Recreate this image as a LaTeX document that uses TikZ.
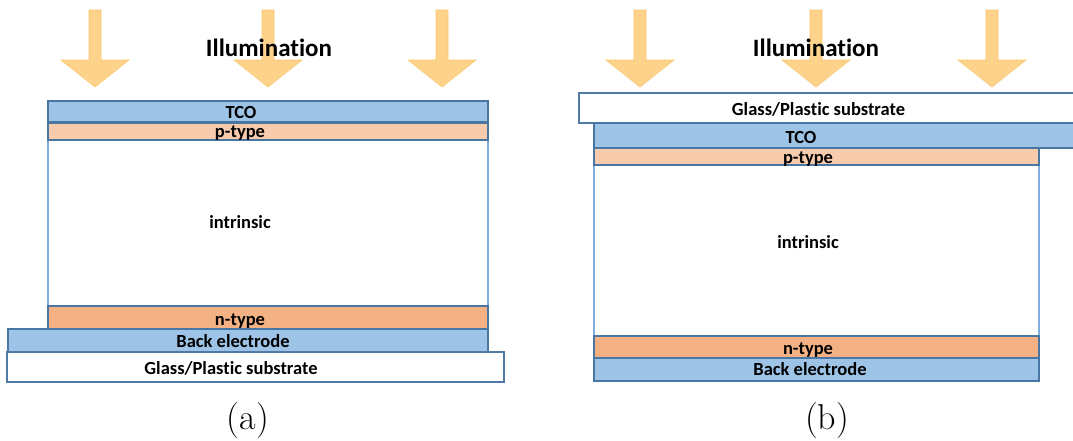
\documentclass[tikz,border=0pt]{standalone}
\usepackage{fontspec}
\newfontfamily\labelfont{Carlito}[BoldFont={* Bold}, Ligatures=NoCommon]
\definecolor{blueFill}{HTML}{9DC3E6}
\definecolor{blueEdge}{HTML}{4A76A3}
\definecolor{pFill}{HTML}{F8CBAD}
\definecolor{nFill}{HTML}{F4B183}
\definecolor{intrEdge}{HTML}{7FAEDD}
\definecolor{subsEdge}{HTML}{5079A3}
\definecolor{sunFill}{HTML}{FDD28A}
\definecolor{sunEdge}{HTML}{FAC96C}
\tikzset{
  layer/.style={line width=1.3pt},
  tcolayer/.style={layer, fill=blueFill, draw=blueEdge},
  player/.style={layer, fill=pFill, draw=blueEdge},
  nlayer/.style={layer, fill=nFill, draw=blueEdge},
  intrlayer/.style={layer, fill=white, draw=intrEdge},
  subslayer/.style={layer, fill=white, draw=subsEdge},
  lbl/.style={inner sep=0pt, anchor=base, font=\labelfont\bfseries\fontsize{18.5}{20}\selectfont},
  sunlbl/.style={inner sep=0pt, anchor=base, font=\labelfont\bfseries\fontsize{25}{28}\selectfont},
  caption/.style={inner sep=0pt, anchor=base, font=\fontsize{36}{40}\selectfont},
  ray/.style={fill=sunFill, draw=sunEdge, line width=0.6pt},
}
% block arrow pointing down, centred at x=#1
\newcommand{\lightray}[1]{%
  \path[ray] (#1-6,10) -- (#1-6,60) -- (#1-34,60) -- (#1,87) -- (#1+34,60)
    -- (#1+6,60) -- (#1+6,10) -- cycle;}
\begin{document}
\begin{tikzpicture}[x=1pt, y=-1pt]
\useasboundingbox (0,0) rectangle (1073,440);
\clip (0,0) rectangle (1073,440);

% ---------- (a) substrate at the bottom ----------
\lightray{95}
\lightray{268}
\lightray{442}
\node[sunlbl] (a-sun) at (269,56) {Illumination};

\draw[intrlayer] (48,140) rectangle (488,306);
\draw[player]    (48,123) rectangle (488,140);
\draw[tcolayer]  (48,101) rectangle (488,122);
\draw[nlayer]    (48,306) rectangle (488,329);
\draw[tcolayer]  (8,329)  rectangle (488,352);
\draw[subslayer] (7,352)  rectangle (504,382);

\node[lbl] (a-tco)  at (241,118) {TCO};
\node[lbl] (a-p)    at (240,137) {p-type};
\node[lbl] (a-i)    at (240,228) {intrinsic};
\node[lbl] (a-n)    at (240,325) {n-type};
\node[lbl] (a-back) at (233,347) {Back electrode};
\node[lbl] (a-subs) at (231,374) {Glass/Plastic substrate};

\node[caption] (a-cap) at (248,429) {(a)};

% ---------- (b) substrate on top ----------
\lightray{640}
\lightray{816}
\lightray{992}
\node[sunlbl] (b-sun) at (816,56) {Illumination};

\draw[subslayer] (579,93)  rectangle (1090,123);
\draw[tcolayer]  (594,123) rectangle (1090,148);
\draw[intrlayer] (594,165) rectangle (1039,336);
\draw[player]    (594,148) rectangle (1039,165);
\draw[nlayer]    (594,336) rectangle (1039,358);
\draw[tcolayer]  (594,358) rectangle (1039,381);

\node[lbl] (b-subs) at (818.5,115) {Glass/Plastic substrate};
\node[lbl] (b-tco)  at (801,143)   {TCO};
\node[lbl] (b-p)    at (808,163)   {p-type};
\node[lbl] (b-i)    at (808,248.5) {intrinsic};
\node[lbl] (b-n)    at (808,354)   {n-type};
\node[lbl] (b-back) at (810,375)   {Back electrode};

\node[caption] (b-cap) at (827,429) {(b)};
\end{tikzpicture}
\end{document}
